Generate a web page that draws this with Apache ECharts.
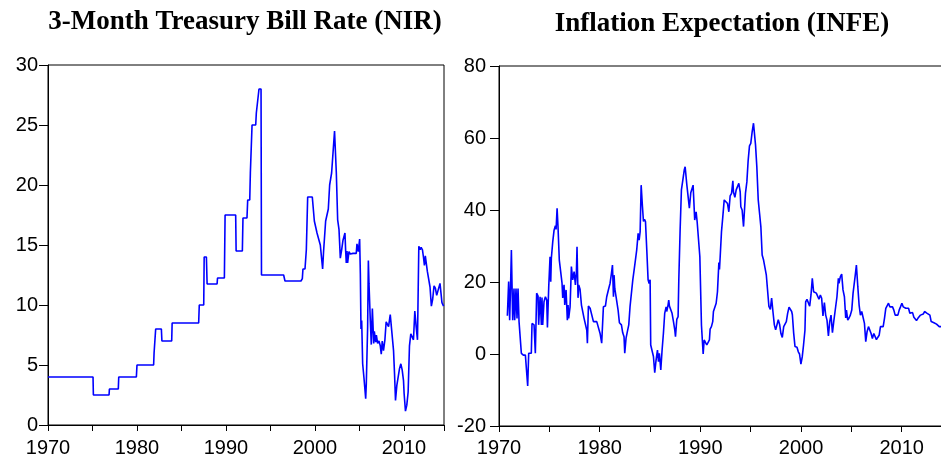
<!DOCTYPE html>
<html>
<head>
<meta charset="utf-8">
<script src="https://cdn.jsdelivr.net/npm/echarts@6/dist/echarts.min.js"></script>
<style>
  html, body { margin: 0; padding: 0; background: #fff; overflow: hidden; }
  #chart { width: 960px; height: 459px; }
</style>
</head>
<body>
<div id="chart"></div>
<script>
// 3-Month Treasury Bill Rate (NIR)
var nirYears = [1970.0, 1975.06, 1975.1, 1976.86, 1976.9, 1977.9, 1977.95, 1979.93, 1980.0, 1981.87,
  1981.92, 1982.06, 1982.1, 1982.74, 1982.8, 1983.9, 1983.95, 1986.93, 1987.0, 1987.5,
  1987.55, 1987.8, 1987.88, 1989.0, 1989.05, 1989.82, 1989.9, 1991.09, 1991.14, 1991.84,
  1991.91, 1992.36, 1992.44, 1992.67, 1992.74, 1992.89, 1992.93, 1993.34, 1993.41, 1993.63,
  1993.71, 1993.94, 1993.99, 1996.48, 1996.63, 1998.43, 1998.58, 1998.65, 1998.88, 1999.03,
  1999.18, 1999.7, 1999.93, 2000.15, 2000.23, 2000.45, 2000.6, 2000.75, 2000.86, 2000.97,
  2001.12, 2001.2, 2001.35, 2001.5, 2001.65, 2001.8, 2001.87, 2002.2, 2002.4, 2002.55,
  2002.7, 2002.85, 2003.0, 2003.15, 2003.37, 2003.45, 2003.52, 2003.6, 2003.67, 2003.82,
  2003.97, 2004.12, 2004.27, 2004.64, 2004.72, 2004.87, 2005.02, 2005.1, 2005.17, 2005.25,
  2005.36, 2005.51, 2005.7, 2005.77, 2005.92, 2006.0, 2006.07, 2006.22, 2006.33, 2006.45,
  2006.6, 2006.67, 2006.82, 2006.9, 2007.04, 2007.19, 2007.34, 2007.45, 2007.56, 2007.7,
  2007.86, 2008.0, 2008.16, 2008.27, 2008.46, 2008.6, 2008.83, 2008.94, 2009.05, 2009.2,
  2009.35, 2009.5, 2009.65, 2009.8, 2009.95, 2010.02, 2010.17, 2010.32, 2010.47, 2010.55,
  2010.62, 2010.77, 2010.92, 2011.07, 2011.22, 2011.37, 2011.52, 2011.67, 2011.82, 2011.93,
  2012.08, 2012.19, 2012.3, 2012.4, 2012.56, 2012.63, 2012.78, 2012.93, 2013.08, 2013.23,
  2013.38, 2013.53, 2013.68, 2013.9, 2014.05, 2014.12, 2014.27, 2014.45];
var nirValues = [4.0, 4.0, 2.5, 2.5, 3.0, 3.0, 4.0, 4.0, 5.0, 5.0,
  6.0, 6.0, 8.0, 8.0, 7.0, 7.0, 8.5, 8.5, 10.0, 10.0,
  14.0, 14.0, 11.75, 11.75, 12.25, 12.25, 17.5, 17.5, 14.5, 14.5,
  17.25, 17.25, 18.75, 18.75, 21.0, 21.0, 25.0, 25.0, 26.0, 26.0,
  28.0, 28.0, 12.5, 12.5, 12.0, 12.0, 12.2, 13.0, 13.0, 14.6,
  19.0, 19.0, 17.0, 17.0, 16.0, 16.0, 15.0, 15.0, 13.0, 14.5,
  14.5, 17.0, 17.0, 18.0, 20.0, 20.0, 21.0, 24.5, 21.0, 17.1,
  16.3, 13.9, 14.6, 15.4, 16.0, 14.5, 13.5, 14.5, 13.5, 14.45,
  14.25, 14.1, 14.3, 14.3, 15.1, 14.45, 15.5, 12.6, 8.0, 8.7,
  5.1, 3.9, 2.2, 3.45, 8.2, 13.7, 11.8, 8.7, 6.7, 9.7,
  6.8, 7.8, 6.9, 7.5, 6.8, 7.0, 6.6, 5.9, 7.0, 6.2,
  7.1, 8.6, 8.6, 8.2, 9.2, 9.1, 6.2, 4.3, 2.05, 3.3,
  3.45, 4.7, 5.1, 4.6, 3.7, 2.6, 1.15, 1.65, 2.75, 2.7,
  6.6, 7.6, 7.6, 7.1, 9.5, 8.2, 7.1, 14.9, 14.6, 14.8,
  14.6, 14.0, 13.3, 14.1, 14.2, 12.8, 12.8, 11.5, 9.9, 10.5,
  11.6, 11.4, 10.8, 10.8, 11.8, 11.9, 10.2, 9.9];

// Inflation Expectation (INFE)
var infeYears = [1970.83, 1970.96, 1971.06, 1971.16, 1971.23, 1971.36, 1971.49, 1971.56, 1971.69, 1971.79,
  1971.89, 1971.99, 1972.15, 1972.22, 1972.42, 1972.62, 1972.75, 1972.85, 1972.95, 1973.08,
  1973.21, 1973.28, 1973.48, 1973.61, 1973.74, 1973.88, 1973.94, 1974.08, 1974.21, 1974.27,
  1974.34, 1974.47, 1974.61, 1974.74, 1974.81, 1974.94, 1975.07, 1975.14, 1975.2, 1975.34,
  1975.47, 1975.6, 1975.67, 1975.77, 1975.86, 1975.99, 1976.13, 1976.26, 1976.33, 1976.46,
  1976.53, 1976.66, 1976.79, 1976.86, 1976.92, 1977.06, 1977.19, 1977.32, 1977.46, 1977.59,
  1977.69, 1977.75, 1977.85, 1977.92, 1978.05, 1978.19, 1978.38, 1978.45, 1978.58, 1978.72,
  1978.78, 1978.88, 1979.05, 1979.24, 1979.38, 1979.71, 1979.9, 1980.04, 1980.2, 1980.37,
  1980.57, 1980.7, 1980.84, 1980.9, 1981.03, 1981.17, 1981.27, 1981.37, 1981.43, 1981.5,
  1981.63, 1981.7, 1981.83, 1981.96, 1982.16, 1982.29, 1982.42, 1982.49, 1982.62, 1982.75,
  1982.89, 1983.02, 1983.15, 1983.29, 1983.42, 1983.55, 1983.68, 1983.75, 1983.82, 1983.92,
  1984.02, 1984.12, 1984.25, 1984.35, 1984.45, 1984.55, 1984.68, 1984.81, 1984.91, 1985.01,
  1985.07, 1985.2, 1985.34, 1985.47, 1985.6, 1985.74, 1985.84, 1985.93, 1986.07, 1986.2,
  1986.33, 1986.46, 1986.6, 1986.66, 1986.79, 1986.86, 1986.93, 1987.06, 1987.19, 1987.33,
  1987.46, 1987.53, 1987.66, 1987.79, 1987.86, 1987.99, 1988.12, 1988.26, 1988.4, 1988.49,
  1988.65, 1988.78, 1988.91, 1989.05, 1989.18, 1989.28, 1989.44, 1989.58, 1989.68, 1989.78,
  1989.95, 1990.11, 1990.28, 1990.38, 1990.5, 1990.64, 1990.77, 1990.9, 1990.97, 1991.1,
  1991.23, 1991.3, 1991.44, 1991.57, 1991.7, 1991.84, 1991.9, 1991.97, 1992.1, 1992.23,
  1992.37, 1992.56, 1992.7, 1992.83, 1992.96, 1993.1, 1993.23, 1993.29, 1993.43, 1993.56,
  1993.69, 1993.82, 1993.96, 1994.02, 1994.15, 1994.29, 1994.35, 1994.48, 1994.62, 1994.75,
  1994.88, 1995.01, 1995.15, 1995.28, 1995.35, 1995.48, 1995.61, 1995.75, 1995.88, 1996.01,
  1996.14, 1996.28, 1996.35, 1996.41, 1996.55, 1996.68, 1996.81, 1996.95, 1997.08, 1997.21,
  1997.35, 1997.48, 1997.61, 1997.74, 1997.88, 1998.01, 1998.14, 1998.28, 1998.41, 1998.54,
  1998.67, 1998.81, 1998.94, 1999.07, 1999.14, 1999.27, 1999.4, 1999.47, 1999.6, 1999.73,
  1999.85, 1999.99, 2000.12, 2000.25, 2000.39, 2000.46, 2000.59, 2000.72, 2000.86, 2000.99,
  2001.12, 2001.25, 2001.38, 2001.52, 2001.65, 2001.78, 2001.92, 2002.05, 2002.18, 2002.32,
  2002.45, 2002.58, 2002.72, 2002.85, 2002.98, 2003.12, 2003.25, 2003.38, 2003.44, 2003.57,
  2003.71, 2003.77, 2003.91, 2004.04, 2004.17, 2004.31, 2004.44, 2004.51, 2004.64, 2004.77,
  2004.9, 2005.04, 2005.17, 2005.24, 2005.37, 2005.5, 2005.64, 2005.77, 2005.9, 2006.03,
  2006.16, 2006.3, 2006.43, 2006.56, 2006.7, 2006.83, 2006.96, 2007.09, 2007.23, 2007.36,
  2007.49, 2007.62, 2007.76, 2007.89, 2008.02, 2008.16, 2008.29, 2008.42, 2008.56, 2008.69,
  2008.82, 2008.95, 2009.09, 2009.22, 2009.35, 2009.49, 2009.62, 2009.75, 2009.88, 2010.02,
  2010.15, 2010.28, 2010.41, 2010.55, 2010.68, 2010.81, 2010.94, 2011.08, 2011.21, 2011.34,
  2011.47, 2011.61, 2011.74, 2011.87, 2012.0, 2012.14, 2012.27, 2012.4, 2012.53, 2012.67,
  2012.8, 2012.93, 2013.06, 2013.2, 2013.33, 2013.46, 2013.59, 2013.73, 2013.86, 2013.96];
var infeValues = [10.6, 20.1, 9.4, 20.1, 28.9, 9.4, 18.2, 9.4, 18.2, 9.9,
  18.2, 9.0, 8.7, 0.2, -0.3, -0.3, 0.2, -8.9, 0.2, 0.0,
  0.2, 8.5, 8.1, 0.2, 16.9, 16.1, 8.1, 15.9, 8.1, 15.7,
  8.1, 14.5, 15.9, 15.0, 7.4, 18.7, 27.0, 20.1, 26.6, 31.2,
  34.4, 35.6, 34.6, 40.5, 35.4, 26.1, 25.7, 19.7, 15.6, 19.2,
  13.6, 17.8, 9.4, 13.6, 9.9, 13.1, 24.3, 20.6, 22.9, 19.2,
  22.9, 29.8, 15.6, 19.2, 18.0, 13.6, 13.1, 9.9, 9.4, 6.6,
  3.0, 13.3, 12.7, 12.2, 9.0, 9.0, 8.7, 5.7, 3.0, 13.1,
  13.3, 15.9, 15.9, 18.2, 19.6, 22.4, 24.7, 15.9, 21.9, 18.2,
  15.9, 16.1, 12.2, 8.7, 8.1, 5.9, 4.8, 0.2, 4.4, 6.2,
  8.1, 13.3, 13.6, 20.6, 23.3, 26.1, 28.9, 29.4, 33.5, 31.6,
  34.0, 46.9, 40.9, 36.8, 37.4, 36.8, 28.9, 20.6, 19.6, 20.6,
  2.5, 3.0, -0.7, -5.2, -1.7, 1.1, -2.1, 0.2, -4.4, 1.1,
  5.7, 11.3, 13.1, 11.8, 13.6, 15.0, 13.3, 13.6, 11.3, 9.0,
  6.7, 4.8, 9.6, 10.4, 20.6, 34.4, 45.6, 48.3, 51.1, 52.0,
  47.2, 47.4, 40.5, 44.8, 44.6, 46.9, 37.2, 39.5, 36.8, 37.2,
  27.0, 8.0, 0.0, 3.9, 4.1, 2.5, 3.0, 3.9, 6.9, 7.6,
  9.0, 11.8, 12.2, 14.1, 17.3, 25.4, 23.5, 27.0, 34.0, 38.1,
  42.8, 43.0, 41.8, 39.5, 43.9, 44.6, 48.1, 45.0, 43.5, 45.6,
  46.5, 47.4, 45.0, 40.9, 40.0, 35.4, 35.2, 44.6, 47.8, 53.8,
  57.8, 58.5, 61.8, 64.1, 64.1, 58.1, 52.0, 42.8, 39.1, 35.4,
  27.5, 26.1, 25.7, 26.0, 22.0, 21.5, 13.2, 12.4, 15.5, 11.8,
  8.1, 6.7, 6.3, 9.5, 8.1, 5.6, 4.6, 7.6, 7.1, 9.0,
  11.3, 13.0, 12.7, 11.8, 10.9, 5.8, 2.1, 2.6, 1.9, 0.6,
  0.0, -2.8, -0.8, 2.5, 6.6, 14.5, 15.2, 15.0, 13.3, 16.4,
  21.0, 17.3, 17.3, 16.9, 17.0, 15.2, 16.4, 15.5, 10.6, 14.3,
  10.8, 9.4, 5.0, 9.0, 10.8, 5.9, 9.0, 11.8, 11.3, 15.9,
  21.0, 19.6, 21.5, 22.2, 17.8, 15.9, 10.0, 12.2, 9.4, 10.0,
  10.8, 12.2, 16.9, 16.4, 21.5, 24.7, 18.7, 13.6, 10.8, 11.8,
  11.5, 8.5, 3.4, 6.2, 7.6, 8.0, 5.7, 4.3, 5.7, 6.2,
  4.0, 4.6, 5.2, 7.6, 8.0, 7.6, 9.9, 12.7, 13.1, 14.1,
  13.1, 13.6, 13.1, 12.2, 10.8, 10.6, 10.8, 12.2, 13.1, 14.1,
  13.1, 13.6, 12.7, 13.1, 12.7, 11.3, 10.8, 11.5, 10.2, 10.6,
  9.3, 9.9, 9.6, 10.8, 11.3, 11.1, 11.8, 12.2, 11.3, 11.5,
  10.8, 9.0, 8.7, 8.7, 8.5, 8.3, 7.8, 7.6, 7.6, 7.6];

var titles = ['3-Month Treasury Bill Rate (NIR)', 'Inflation Expectation (INFE)'];

function pairs(xs, ys) {
  return xs.map(function (x, i) { return [x, ys[i]]; });
}

var labelFont = { color: '#000', fontSize: 20, fontFamily: '"Liberation Sans", Arial, sans-serif' };

function xAxisFor(gridIndex, margin) {
  return {
    type: 'value', gridIndex: gridIndex, min: 1970, max: 2014.5, interval: 5,
    axisLine: { show: true, onZero: false, lineStyle: { color: '#000', width: 1 } },
    axisTick: { show: true, inside: false, length: 6, lineStyle: { color: '#000' } },
    axisLabel: Object.assign({
      margin: margin,
      formatter: function (v) { return v % 10 === 0 ? String(v) : ''; }
    }, labelFont),
    splitLine: { show: false }
  };
}

var chart = echarts.init(document.getElementById('chart'));
chart.setOption({
  animation: false,
  backgroundColor: '#fff',
  graphic: [
    { type: 'text', x: 245, y: 22, style: { text: titles[0], fontSize: 27, fontWeight: 'bold',
      fontFamily: '"Liberation Serif", "Times New Roman", serif', fill: '#000', align: 'center', verticalAlign: 'middle' } },
    { type: 'text', x: 722, y: 24, style: { text: titles[1], fontSize: 27, fontWeight: 'bold',
      fontFamily: '"Liberation Serif", "Times New Roman", serif', fill: '#000', align: 'center', verticalAlign: 'middle' } }
  ],
  grid: [
    { left: 48, top: 65, width: 396, height: 360, show: true, borderColor: '#000', borderWidth: 1, backgroundColor: 'transparent' },
    { left: 499, top: 66, width: 448, height: 360, show: true, borderColor: '#000', borderWidth: 1, backgroundColor: 'transparent' }
  ],
  xAxis: [xAxisFor(0, 13), xAxisFor(1, 12)],
  yAxis: [
    {
      type: 'value', gridIndex: 0, min: 0, max: 30, interval: 5,
      axisLine: { show: true, onZero: false, lineStyle: { color: '#000', width: 1 } },
      axisTick: { show: true, inside: false, length: 9, lineStyle: { color: '#000' } },
      axisLabel: Object.assign({ margin: 10 }, labelFont),
      splitLine: { show: false }
    },
    {
      type: 'value', gridIndex: 1, min: -20, max: 80, interval: 20,
      axisLine: { show: true, onZero: false, lineStyle: { color: '#000', width: 1 } },
      axisTick: { show: true, inside: false, length: 9, lineStyle: { color: '#000' } },
      axisLabel: Object.assign({ margin: 13 }, labelFont),
      splitLine: { show: false }
    }
  ],
  series: [
    {
      name: 'NIR', type: 'line', xAxisIndex: 0, yAxisIndex: 0,
      data: pairs(nirYears, nirValues),
      showSymbol: false, symbol: 'none',
      lineStyle: { color: '#0000ff', width: 1.6 }
    },
    {
      name: 'INFE', type: 'line', xAxisIndex: 1, yAxisIndex: 1,
      data: pairs(infeYears, infeValues),
      showSymbol: false, symbol: 'none',
      lineStyle: { color: '#0000ff', width: 1.6 }
    }
  ]
});
</script>
</body>
</html>
